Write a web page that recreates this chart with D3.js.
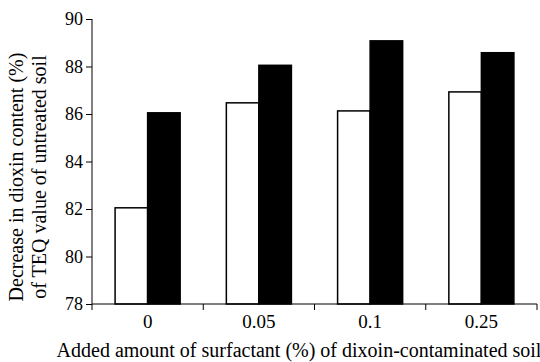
<!DOCTYPE html>
<html>
<head>
<meta charset="utf-8">
<script src="https://cdn.jsdelivr.net/npm/d3@7"></script>
<style>
body { margin: 0; background: #fff; }
</style>
</head>
<body>
<script>
let categories = ["0", "0.05", "0.1", "0.25"];
let seriesNames = ["white", "black"];
let whiteValues = [82.05, 86.47, 86.13, 86.93];
let blackValues = [86.05, 88.05, 89.08, 88.58];
let yTicks = [78, 80, 82, 84, 86, 88, 90];
let serif = "Liberation Serif";

let svg = d3.select("body").append("svg").attr("width", 540).attr("height", 362);

let x = d3.scaleBand().domain(categories).range([92, 537]).padding(0);
let xs = d3.scaleBand().domain(seriesNames).range([0, x.bandwidth()]).paddingInner(0).paddingOuter(0.71);
let y = d3.scaleLinear().domain([78, 90]).range([304, 19]);

let rows = categories.map(function(c, i) {
    return {cat: c, white: whiteValues[i], black: blackValues[i]};
});

let groups = svg.selectAll("g.grp").data(rows).enter().append("g").attr("class", "grp")
    .attr("transform", function(d) { return "translate(" + x(d.cat) + ",0)"; });

groups.selectAll("rect").data(function(d) {
    return seriesNames.map(function(s) { return {s: s, v: d[s]}; });
}).enter().append("rect")
    .attr("x", function(d) { return xs(d.s); })
    .attr("y", function(d) { return y(d.v); })
    .attr("width", xs.bandwidth())
    .attr("height", function(d) { return y(78) - y(d.v); })
    .attr("fill", function(d) { return d.s == "black" ? "#000" : "#fff"; })
    .attr("stroke", "#000")
    .attr("stroke-width", 1.5);

// y axis
let yAxis = svg.append("g").attr("transform", "translate(92,0)")
    .call(d3.axisLeft(y).tickValues(yTicks).tickSize(6).tickPadding(3).tickFormat(d3.format("d")));
yAxis.selectAll("text").style("font-family", serif).style("font-size", "18px").attr("fill", "#000");
yAxis.select(".domain").attr("d", "M0," + y(90) + "V" + y(78));

// x axis, ticks on band edges
let xAxis = svg.append("g").attr("transform", "translate(0,304)");
xAxis.append("line").attr("x1", 92).attr("x2", 537).attr("stroke", "#000");
let edges = categories.map(function(c) { return x(c); }).concat([x.range()[1]]);
xAxis.selectAll("line.tk").data(edges).enter().append("line").attr("class", "tk")
    .attr("x1", function(d) { return d; }).attr("x2", function(d) { return d; })
    .attr("y1", 0).attr("y2", 6).attr("stroke", "#000");
xAxis.selectAll("text").data(categories).enter().append("text")
    .attr("x", function(d) { return x(d) + x.bandwidth() / 2; })
    .attr("y", 24).attr("text-anchor", "middle").style("font-family", serif).style("font-size", "19px")
    .text(function(d) { return d; });

svg.append("text").attr("x", 299).attr("y", 357).attr("text-anchor", "middle")
    .style("font-family", serif).style("font-size", "20px")
    .text("Added amount of surfactant (%) of dixoin-contaminated soil");

svg.append("text").attr("transform", "translate(23,177) rotate(-90)").attr("text-anchor", "middle")
    .style("font-family", serif).style("font-size", "20px")
    .text("Decrease in dioxin content (%)");
svg.append("text").attr("transform", "translate(46,177) rotate(-90)").attr("text-anchor", "middle")
    .style("font-family", serif).style("font-size", "20px")
    .text("of TEQ value of untreated soil");
</script>
</body>
</html>
